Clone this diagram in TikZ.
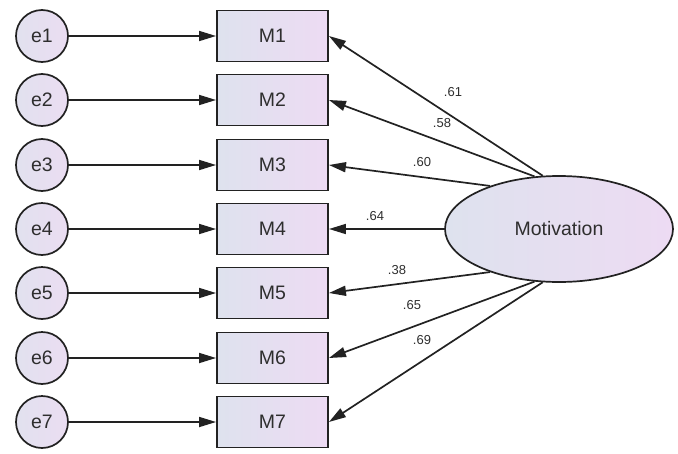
\documentclass[tikz,border=0pt]{standalone}
\usepackage{fontspec}
\setmainfont{Liberation Sans}
\usetikzlibrary{shapes.geometric,arrows.meta}
\definecolor{lineC}{HTML}{222222}
\definecolor{txtC}{HTML}{2E2E2E}
\definecolor{leftC}{HTML}{DEE2EE}
\definecolor{rightC}{HTML}{EDDBF3}
\definecolor{errC}{HTML}{E7E0F0}
\tikzset{
  obsbox/.style={draw=lineC, line width=1.9pt, minimum width=111pt, minimum height=51pt, inner sep=0pt,
    left color=leftC, right color=rightC, text=txtC, font=\fontsize{19.5}{22}\selectfont},
  errnode/.style={circle, draw=lineC, line width=1.7pt, minimum size=52pt, inner sep=0pt,
    left color=leftC!60!errC, right color=rightC!60!errC, text=txtC, font=\fontsize{19.5}{22}\selectfont},
  latentnode/.style={ellipse, draw=lineC, line width=1.7pt, minimum width=228pt, minimum height=106pt, inner sep=0pt,
    left color=leftC, right color=rightC, text=txtC, font=\fontsize{19.5}{22}\selectfont},
  arr/.style={draw=lineC, line width=1.7pt, -{Triangle[length=17pt,width=10pt]}},
  coef/.style={text=txtC, font=\fontsize{13}{15}\selectfont, inner sep=0pt}
}
\begin{document}
\begin{tikzpicture}[x=1pt,y=-1pt]
\useasboundingbox (0,0) rectangle (678,453);
\foreach \i/\y in {1/36,2/100,3/165,4/229,5/293,6/358,7/422}{
  \node[errnode] (e\i) at (42,\y) {e\i};
  \node[obsbox] (M\i) at (272.5,\y) {M\i};
  \draw[arr] (e\i) -- (M\i.west);
}
\node[latentnode] (mot) at (559,229) {Motivation};
\draw[arr] (mot.107) -- (M1.east);
\draw[arr] (mot.115) -- (M2.east);
\draw[arr] (mot.148) -- (M3.east);
\draw[arr] (mot.180) -- (M4.east);
\draw[arr] (mot.212) -- (M5.east);
\draw[arr] (mot.245) -- (M6.east);
\draw[arr] (mot.253) -- (M7.east);
\node[coef] (c1) at (453,92) {.61};
\node[coef] (c2) at (442,123) {.58};
\node[coef] (c3) at (422,162) {.60};
\node[coef] (c4) at (375,216) {.64};
\node[coef] (c5) at (397,270) {.38};
\node[coef] (c6) at (412,305) {.65};
\node[coef] (c7) at (422,340) {.69};
\end{tikzpicture}
\end{document}
